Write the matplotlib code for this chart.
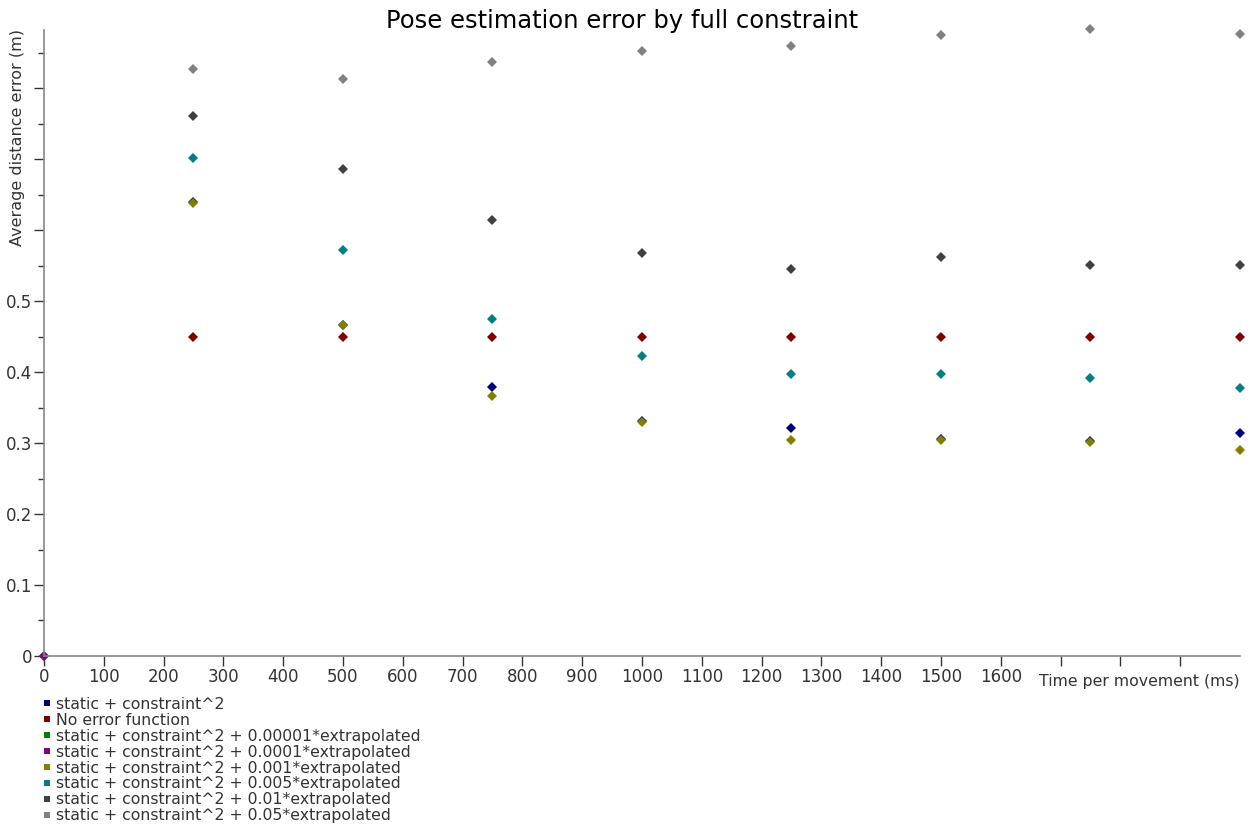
import matplotlib
matplotlib.use('Agg')
import matplotlib.pyplot as plt
from matplotlib.lines import Line2D
from matplotlib.ticker import MultipleLocator

plt.rcParams['font.family'] = ['DejaVu Sans']

# Time per movement (ms) for every measured configuration
times = [250, 500, 750, 1000, 1250, 1500, 1750, 2000]

# Average distance error (m) per error function
static_sq = [0.640, 0.466, 0.379, 0.331, 0.321, 0.306, 0.303, 0.314]
no_error_fn = [0.449, 0.449, 0.449, 0.449, 0.449, 0.449, 0.449, 0.449]
extrap_00001 = [0.0]
extrap_0001 = [0.0]
extrap_001 = [0.638, 0.466, 0.366, 0.329, 0.304, 0.304, 0.301, 0.290]
extrap_005 = [0.701, 0.572, 0.475, 0.423, 0.397, 0.397, 0.392, 0.377]
extrap_01 = [0.761, 0.686, 0.614, 0.568, 0.545, 0.562, 0.551, 0.551]
extrap_05 = [0.827, 0.813, 0.837, 0.852, 0.859, 0.875, 0.883, 0.876]

series = [
    ('static + constraint^2', times, static_sq, '#000080'),
    ('No error function', times, no_error_fn, '#800000'),
    ('static + constraint^2 + 0.00001*extrapolated', [0], extrap_00001, '#008000'),
    ('static + constraint^2 + 0.0001*extrapolated', [0], extrap_0001, '#800080'),
    ('static + constraint^2 + 0.001*extrapolated', times, extrap_001, '#808000'),
    ('static + constraint^2 + 0.005*extrapolated', times, extrap_005, '#008080'),
    ('static + constraint^2 + 0.01*extrapolated', times, extrap_01, '#404040'),
    ('static + constraint^2 + 0.05*extrapolated', times, extrap_05, '#808080'),
]

fig = plt.figure(figsize=(12.52, 8.27), dpi=100)
ax = fig.add_axes([0.0351, 0.2068, 0.9553, 0.7569])

handles = []
for label, xs, ys, color in series:
    ax.plot(xs, ys, linestyle='', marker='D', markersize=4.8, color=color,
            markeredgewidth=0, clip_on=False)
    handles.append(Line2D([], [], linestyle='', marker='s', markersize=5,
                          color=color, markeredgewidth=0, label=label))

ax.set_xlim(0, 2000)
ax.set_ylim(0, 0.882)

# x ticks every 100 ms, labels stop where the axis title sits
ax.set_xticks(range(0, 2000, 100))
ax.set_xticklabels([str(t) if t <= 1600 else '' for t in range(0, 2000, 100)])

yt = [0, 0.1, 0.2, 0.3, 0.4, 0.5, 0.6, 0.7, 0.8]
ax.set_yticks(yt)
ax.set_yticklabels(['0', '0.1', '0.2', '0.3', '0.4', '0.5', '', '', ''])
ax.yaxis.set_minor_locator(MultipleLocator(0.05))

ax.tick_params(axis='both', labelsize=12, colors='#333333', width=1)
ax.tick_params(axis='x', direction='out', length=7, pad=2)
ax.tick_params(axis='y', which='major', direction='out', length=7, pad=1.5)
ax.tick_params(axis='y', which='minor', direction='out', length=4, width=1, color='#333333')

for side in ['top', 'right']:
    ax.spines[side].set_visible(False)
for side in ['left', 'bottom']:
    ax.spines[side].set_color('#888888')
    ax.spines[side].set_linewidth(1.2)

ax.set_xlabel('Time per movement (ms)', fontsize=11.3, color='#333333', ha='right')
ax.xaxis.set_label_coords(1.0, -0.029)
ax.set_ylabel('Average distance error (m)', fontsize=11.5, color='#333333', va='center')
ax.yaxis.set_label_coords(-0.0217, 0.829)

fig.text(0.4968, 0.975, 'Pose estimation error by full constraint', ha='center',
         va='center', fontsize=17.5, color='black')

fig.legend(handles=handles, loc='upper left', bbox_to_anchor=(0.0275, 0.167),
           frameon=False, fontsize=11.3, handlelength=0.6, handletextpad=0.3,
           labelspacing=0.06, borderpad=0, labelcolor='#333333')

fig.savefig('out.png', dpi=100)
